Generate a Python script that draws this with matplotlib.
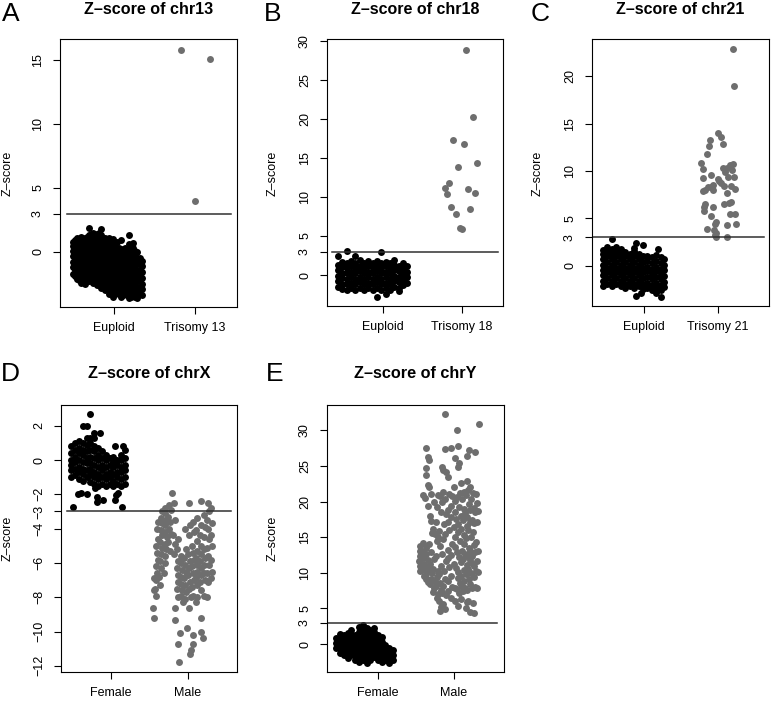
import matplotlib
matplotlib.use('Agg')
import matplotlib.pyplot as plt

plt.rcParams['font.family'] = ['Liberation Sans', 'DejaVu Sans']

# ---------------- data (jitter offset from category centre, z-score) ----------------
# Panel A: chr13
a_categories = ['Euploid', 'Trisomy 13']
a_euploid = [
    (-0.51, [-1.7, -1.2, -0.8, -0.3, 0.1, 0.5, 0.8]),
    (-0.485, [-1.9, -1.4, -0.9, -0.45, 0.0, 0.4, 0.9]),
    (-0.46, [-2.1, -1.6, -1.0, -0.6, -0.1, 0.3, 0.7, 1.1]),
    (-0.435, [-2.2, -1.7, -1.2, -0.8, -0.3, 0.15, 0.55, 1.0]),
    (-0.41, [-2.4, -1.9, -1.4, -1.0, -0.5, -0.1, 0.4, 0.9, 1.2]),
    (-0.385, [-2.3, -1.8, -1.3, -0.85, -0.3, 0.15, 0.7, 1.1]),
    (-0.36, [-2.5, -2.0, -1.6, -1.2, -0.7, -0.3, 0.2, 0.6, 1.0]),
    (-0.335, [-2.2, -1.7, -1.1, -0.6, -0.2, 0.3, 0.75, 1.15]),
    (-0.31, [-2.3, -1.8, -1.3, -0.9, -0.4, 0.0, 0.4, 0.9, 1.3, 1.9]),
    (-0.285, [-2.1, -1.6, -1.2, -0.8, -0.35, 0.1, 0.55, 1.0, 1.4]),
    (-0.26, [-2.4, -2.0, -1.5, -1.1, -0.6, -0.2, 0.3, 0.7, 1.1, 1.5]),
    (-0.235, [-2.3, -1.8, -1.4, -1.0, -0.5, 0.0, 0.4, 0.85, 1.3]),
    (-0.21, [-2.6, -2.1, -1.7, -1.2, -0.8, -0.3, 0.1, 0.5, 1.0, 1.4]),
    (-0.185, [-2.5, -2.0, -1.5, -1.05, -0.6, -0.2, 0.25, 0.7, 1.15, 1.5]),
    (-0.16, [-2.8, -2.3, -1.9, -1.4, -1.0, -0.5, -0.1, 0.4, 0.8, 1.3, 1.8]),
    (-0.135, [-2.6, -2.15, -1.7, -1.25, -0.85, -0.4, 0.05, 0.5, 0.95]),
    (-0.11, [-3.0, -2.5, -2.1, -1.6, -1.2, -0.7, -0.3, 0.2, 0.6, 1.1]),
    (-0.085, [-2.9, -2.4, -2.0, -1.5, -1.1, -0.6, -0.2, 0.3, 0.7, 1.0]),
    (-0.06, [-3.3, -2.8, -2.3, -1.9, -1.4, -1.0, -0.5, -0.1, 0.4, 0.8, 1.1]),
    (-0.035, [-3.2, -2.7, -2.3, -1.8, -1.3, -0.9, -0.4, 0.0, 0.45, 0.85]),
    (-0.01, [-3.5, -3.0, -2.6, -2.1, -1.7, -1.2, -0.8, -0.3, 0.1, 0.6, 1.0]),
    (0.015, [-3.3, -2.8, -2.4, -1.9, -1.5, -1.0, -0.55, -0.1, 0.3, 0.7]),
    (0.04, [-3.2, -2.8, -2.3, -1.9, -1.4, -1.0, -0.5, -0.1, 0.3, 0.8]),
    (0.065, [-3.3, -2.9, -2.4, -2.0, -1.5, -1.05, -0.6, -0.15, 0.3]),
    (0.09, [-3.5, -3.0, -2.6, -2.1, -1.6, -1.2, -0.7, -0.3, 0.2, 0.9]),
    (0.115, [-3.4, -2.8, -2.3, -1.8, -1.35, -0.9, -0.45, 0.0]),
    (0.14, [-3.3, -2.9, -2.4, -2.0, -1.5, -1.1, -0.6, -0.2, 0.3]),
    (0.165, [-3.4, -3.0, -2.5, -2.1, -1.6, -1.2, -0.7, -0.25, 0.2]),
    (0.19, [-3.6, -3.1, -2.7, -2.2, -1.8, -1.3, -0.9, -0.4, 0.1, 0.6, 1.3]),
    (0.215, [-3.5, -3.0, -2.6, -2.1, -1.7, -1.2, -0.8, -0.3, 0.2, 0.5]),
    (0.24, [-3.4, -2.9, -2.5, -2.0, -1.6, -1.1, -0.7, -0.2, 0.3, 0.7]),
    (0.265, [-3.5, -3.0, -2.6, -2.1, -1.7, -1.25, -0.8, -0.35, 0.1]),
    (0.29, [-3.6, -3.1, -2.7, -2.3, -1.8, -1.4, -0.9, -0.5, 0.0]),
    (0.315, [-3.3, -2.8, -2.3, -1.9, -1.4, -0.95, -0.5]),
    (0.34, [-3.4, -2.9, -2.5, -2.0, -1.6, -1.1, -0.7]),
]
a_trisomy = [(-0.17, 15.8), (0.18, 15.1), (0.00, 4.0)]

# Panel B: chr18
b_categories = ['Euploid', 'Trisomy 18']
b_euploid = [
    (-0.57, [-1.5, -0.8, -0.1, 0.6, 1.3, 2.4]),
    (-0.515, [-1.8, -1.1, -0.4, 0.3, 1.0, 1.7]),
    (-0.46, [-1.9, -1.2, -0.5, 0.2, 0.9, 1.6, 3.1]),
    (-0.405, [-1.7, -1.0, -0.3, 0.4, 1.1, 1.8]),
    (-0.35, [-1.9, -1.2, -0.5, 0.2, 0.9, 1.6, 2.4]),
    (-0.295, [-1.6, -0.9, -0.2, 0.5, 1.2, 1.9]),
    (-0.24, [-1.9, -1.2, -0.5, 0.2, 0.9, 1.5]),
    (-0.185, [-1.7, -1.0, -0.3, 0.4, 1.1, 1.8]),
    (-0.13, [-1.9, -1.2, -0.5, 0.2, 0.9, 1.6]),
    (-0.075, [-1.6, -0.9, -0.2, 0.5, 1.2, 1.8, -2.8]),
    (-0.02, [-1.9, -1.2, -0.5, 0.2, 0.9, 1.5, 3.0]),
    (0.035, [-1.7, -1.0, -0.3, 0.4, 1.1, 1.7, -2.4]),
    (0.09, [-1.9, -1.2, -0.5, 0.2, 0.9, 1.6]),
    (0.145, [-1.5, -0.8, -0.1, 0.6, 1.3, 1.9]),
    (0.20, [-1.6, -0.9, -0.2, 0.5, 1.2, -2.0]),
    (0.255, [-1.3, -0.6, 0.1, 0.8, 1.5]),
    (0.30, [-1.0, -0.3, 0.4, 1.1]),
]
b_trisomy = [(0.05, 28.9), (0.14, 20.2), (-0.11, 17.3), (0.03, 16.75), (-0.05, 13.9),
             (0.19, 14.3), (-0.16, 11.8), (-0.22, 11.2), (-0.19, 10.35), (0.08, 11.07),
             (0.16, 10.47), (-0.14, 8.76), (0.10, 8.42), (-0.08, 7.82), (-0.03, 6.07),
             (0.00, 5.85)]

# Panel C: chr21
c_categories = ['Euploid', 'Trisomy 21']
c_euploid = [
    (-0.55, [-2.2, -1.6, -1.0, -0.5, 0.1, 0.7, 1.2, 1.7]),
    (-0.49, [-1.9, -1.3, -0.7, -0.2, 0.4, 1.0, 1.5, 2.0]),
    (-0.43, [-2.2, -1.6, -1.0, -0.5, 0.1, 0.7, 1.2, 1.8, 2.8]),
    (-0.37, [-1.9, -1.3, -0.7, -0.2, 0.4, 1.0, 1.5, 2.0]),
    (-0.31, [-2.2, -1.6, -1.0, -0.5, 0.1, 0.7, 1.2, 1.8]),
    (-0.25, [-2.4, -1.9, -1.3, -0.7, -0.2, 0.4, 1.0, 1.4]),
    (-0.19, [-2.2, -1.6, -1.0, -0.5, 0.1, 0.7, 1.2]),
    (-0.13, [-2.4, -1.9, -1.3, -0.7, -0.2, 0.4, 1.0, 1.5, 1.9]),
    (-0.07, [-2.2, -1.6, -1.0, -0.5, 0.1, 0.7, 1.2]),
    (-0.10, [2.4, -3.2]),
    (-0.01, [-2.5, -1.9, -1.3, -0.7, -0.2, 0.4, 1.0, 2.2]),
    (-0.04, [-2.9]),
    (0.05, [-2.4, -1.8, -1.2, -0.6, -0.1, 0.5, 1.0]),
    (0.11, [-2.6, -2.0, -1.4, -0.9, -0.3, 0.3, 0.9]),
    (0.17, [-2.4, -1.8, -1.2, -0.6, -0.1, 0.5, 1.1, -2.9]),
    (0.23, [-2.6, -2.0, -1.4, -0.9, -0.3, 0.3, 0.9, -3.3]),
    (0.19, [1.8]),
    (0.28, [-2.3, -1.7, -1.1, -0.5, 0.1, 0.7]),
]
c_trisomy = [(0.20, 22.85), (0.22, 18.98), (0.00, 14.05), (0.04, 13.56), (-0.11, 13.27),
             (0.07, 12.85), (-0.12, 12.64), (-0.14, 11.8), (-0.22, 10.8), (-0.20, 10.2),
             (0.07, 10.28), (0.12, 10.35), (0.21, 10.74), (0.16, 10.63), (0.19, 10.1),
             (-0.20, 9.3), (-0.09, 9.58), (0.14, 9.4), (0.22, 9.4), (0.02, 8.98),
             (0.05, 8.7), (0.09, 8.45), (-0.13, 8.34), (-0.09, 8.34), (-0.06, 8.0),
             (-0.20, 7.89), (0.18, 8.45), (0.24, 8.07), (0.12, 7.64), (0.18, 6.76),
             (0.15, 6.59), (0.09, 6.5), (-0.17, 6.48), (-0.18, 6.23), (-0.06, 6.16),
             (-0.19, 5.78), (-0.09, 5.28), (0.16, 5.46), (0.23, 5.46), (-0.03, 4.65),
             (0.12, 4.3), (0.25, 4.44), (-0.15, 3.84), (-0.05, 3.77), (-0.02, 3.49),
             (-0.04, 3.24), (-0.03, 3.06), (0.13, 3.0), (-0.07, 8.5), (0.01, 9.2),
             (0.10, 9.9), (-0.04, 4.4), (-0.17, 8.0)]

# Panel D: chrX
d_categories = ['Female', 'Male']
d_female = [
    (-0.52, [-1.0, -0.6, -0.3, 0.0, 0.4, 0.8]),
    (-0.47, [-0.9, -0.5, -0.1, 0.2, 0.6, 1.0]),
    (-0.42, [-1.1, -0.7, -0.4, 0.0, 0.4, 0.7, 1.1]),
    (-0.37, [-1.2, -0.8, -0.5, -0.1, 0.3, 0.6, 1.0, 2.0]),
    (-0.32, [-1.0, -0.6, -0.2, 0.1, 0.5, 0.9, 1.3, 2.0]),
    (-0.27, [-1.3, -0.9, -0.5, -0.2, 0.2, 0.6, 1.0, 1.3, 2.7]),
    (-0.22, [-1.4, -1.0, -0.7, -0.3, 0.1, 0.5, 0.8, 1.3, 1.6]),
    (-0.17, [-1.5, -1.1, -0.8, -0.4, 0.0, 0.3, 0.7]),
    (-0.14, [1.6]),
    (-0.12, [-1.4, -1.0, -0.6, -0.3, 0.1, 0.5]),
    (-0.07, [-1.5, -1.1, -0.8, -0.4, 0.0, 0.3]),
    (-0.02, [-1.4, -1.0, -0.7, -0.3, 0.1]),
    (0.03, [-1.5, -1.2, -0.8, -0.4, -0.1, 0.2]),
    (0.05, [0.8, -2.33]),
    (0.08, [-1.4, -1.0, -0.7, -0.3, 0.0]),
    (0.13, [-1.5, -1.1, -0.7, -0.4, 0.0, 0.3]),
    (0.18, [-1.4, -1.0, -0.6, -0.3, 0.1, 0.6]),
    (0.16, [0.8]),
    (-0.50, [-2.72]), (-0.43, [-1.98]), (-0.40, [-1.94]), (-0.32, [-2.0]),
    (-0.19, [-2.14]), (-0.18, [-2.47]), (-0.11, [-2.33]), (-0.21, [-1.65]),
    (0.07, [-2.04]), (0.09, [-1.94]), (0.14, [-2.72]),
]
d_male = [
    (-0.21, -1.9), (-0.24, -2.6), (-0.22, -2.9), (-0.25, -3.3), (-0.23, -3.6), (-0.24, -4.0),
    (-0.22, -4.3), (-0.25, -4.8), (-0.23, -5.3),
    (-0.29, -2.8), (-0.30, -3.1), (-0.28, -3.5), (-0.30, -3.8), (-0.29, -4.2), (-0.27, -4.5),
    (-0.30, -4.9), (-0.28, -5.2), (-0.30, -5.6), (-0.29, -6.0), (-0.31, -6.6),
    (-0.34, -3.0), (-0.35, -3.4), (-0.33, -3.7), (-0.35, -4.1), (-0.34, -4.4), (-0.36, -4.8),
    (-0.34, -5.1), (-0.35, -5.5), (-0.36, -5.9), (-0.35, -6.3), (-0.37, -6.8), (-0.36, -7.3),
    (-0.39, -3.6), (-0.40, -4.0), (-0.39, -4.6), (-0.41, -5.0), (-0.40, -5.4), (-0.39, -5.8),
    (-0.41, -6.2), (-0.40, -6.6), (-0.41, -7.0), (-0.42, -7.5), (-0.41, -7.9),
    (-0.44, -6.9), (-0.44, -7.6), (-0.45, -8.6), (-0.44, -9.2),
    (-0.18, -2.5), (-0.17, -3.5), (-0.19, -4.4), (-0.16, -4.9), (-0.18, -5.5),
    (-0.13, -4.6), (-0.14, -5.2), (-0.12, -5.9), (-0.14, -6.3), (-0.13, -6.7), (-0.12, -7.1),
    (-0.14, -7.5), (-0.13, -8.0), (-0.16, -8.6), (-0.16, -9.3),
    (-0.08, -5.6), (-0.09, -6.0), (-0.07, -6.4), (-0.08, -6.8), (-0.09, -7.2), (-0.07, -7.6),
    (-0.08, -7.9), (-0.06, -8.3),
    (-0.03, -4.0), (-0.02, -5.2), (-0.04, -5.7), (-0.03, -6.1), (-0.02, -6.5), (-0.04, -6.9),
    (-0.03, -7.3), (-0.02, -7.7), (-0.03, -8.1), (-0.01, -9.8),
    (0.02, -2.5), (0.03, -3.8), (0.02, -4.4), (0.01, -5.5), (0.03, -5.9), (0.02, -6.3),
    (0.01, -6.7), (0.03, -7.1), (0.02, -7.5), (0.04, -8.0), (0.02, -8.6),
    (0.07, -3.6), (0.08, -4.2), (0.06, -5.0), (0.07, -5.4), (0.08, -5.8), (0.06, -6.2),
    (0.07, -6.6), (0.08, -7.0), (0.06, -7.4), (0.07, -7.9), (0.07, -10.2), (0.07, -10.7),
    (0.12, -3.4), (0.11, -4.1), (0.13, -4.7), (0.12, -5.3), (0.11, -5.7), (0.13, -6.1),
    (0.12, -6.5), (0.11, -6.9), (0.13, -7.3), (0.12, -8.0), (0.11, -8.3),
    (0.18, -2.4), (0.17, -3.8), (0.16, -4.4), (0.18, -5.0), (0.17, -5.5), (0.16, -5.9),
    (0.18, -6.3), (0.17, -6.7), (0.16, -7.1), (0.18, -7.6), (0.18, -9.2), (0.18, -10.0),
    (0.22, -3.2), (0.23, -3.9), (0.21, -4.5), (0.22, -5.2), (0.23, -5.7), (0.21, -6.1),
    (0.22, -6.6), (0.23, -7.0), (0.21, -7.9), (0.20, -10.4),
    (0.27, -2.5), (0.28, -3.0), (0.26, -3.5), (0.27, -4.0), (0.28, -4.6), (0.26, -5.1),
    (0.27, -5.6), (0.28, -6.1), (0.26, -6.6), (0.27, -7.1),
    (0.31, -2.8), (0.32, -3.7), (0.31, -4.4), (0.32, -5.0), (0.31, -5.8), (0.32, -6.5),
    (0.31, -6.9),
    (-0.10, -10.1), (-0.12, -10.7), (0.03, -11.3), (0.05, -11.1), (-0.11, -11.8), (0.25, -8.0),
]

# Panel E: chrY
e_categories = ['Female', 'Male']
e_female = [
    (-0.55, [-0.6, 0.1, 0.8]),
    (-0.50, [-1.3, -0.6, 0.1, 0.8, 1.4]),
    (-0.45, [-1.6, -0.9, -0.2, 0.5, 1.2]),
    (-0.40, [-1.9, -1.2, -0.5, 0.2, 0.9, 1.6]),
    (-0.35, [-1.6, -0.9, -0.2, 0.5, 1.2, 1.9]),
    (-0.30, [-2.2, -1.5, -0.8, -0.1, 0.6, 1.3]),
    (-0.25, [-2.5, -1.8, -1.1, -0.4, 0.3, 1.0, 1.7, 2.4]),
    (-0.20, [-2.3, -1.6, -0.9, -0.2, 0.5, 1.2, 1.9, 2.7]),
    (-0.15, [-2.6, -1.9, -1.2, -0.5, 0.2, 0.9, 1.6, 2.3]),
    (-0.10, [-2.2, -1.5, -0.8, -0.1, 0.6, 1.3, 2.0]),
    (-0.05, [-1.8, -1.1, -0.4, 0.3, 1.0, 1.7, 2.3]),
    (0.00, [-2.2, -1.5, -0.8, -0.1, 0.6, 1.3]),
    (0.05, [-2.5, -1.8, -1.1, -0.4, 0.3, 1.0]),
    (0.10, [-2.2, -1.5, -0.8, -0.2]),
    (0.15, [-2.6, -1.9, -1.2, -0.5]),
    (0.20, [-2.3, -1.6, -0.9]),
]
e_male = [
    (-0.44, 13.8), (-0.45, 13.1), (-0.44, 12.4), (-0.46, 11.6), (-0.44, 10.9), (-0.45, 10.2),
    (-0.40, 20.9), (-0.41, 14.2), (-0.40, 12.9), (-0.39, 12.1), (-0.41, 11.2), (-0.40, 10.5), (-0.39, 9.6),
    (-0.37, 24.7), (-0.37, 23.7), (-0.38, 20.5), (-0.36, 13.5), (-0.37, 12.6), (-0.36, 11.0), (-0.37, 9.9), (-0.36, 9.2),
    (-0.36, 27.6), (-0.34, 26.3), (-0.33, 25.9), (-0.34, 22.4), (-0.33, 22.1), (-0.34, 19.4), (-0.33, 14.0),
    (-0.34, 11.8), (-0.33, 10.4), (-0.34, 8.7),
    (-0.30, 21.0), (-0.31, 18.0), (-0.30, 17.3), (-0.29, 15.6), (-0.30, 12.9), (-0.31, 11.3), (-0.29, 10.0),
    (-0.30, 9.2), (-0.31, 8.4),
    (-0.26, 20.0), (-0.27, 16.2), (-0.25, 15.4), (-0.26, 11.9), (-0.27, 10.6), (-0.25, 8.9), (-0.26, 7.8), (-0.27, 7.3),
    (-0.21, 20.9), (-0.22, 19.3), (-0.23, 17.1), (-0.21, 15.0), (-0.22, 14.4), (-0.23, 12.3), (-0.21, 10.2),
    (-0.22, 9.4), (-0.23, 8.1), (-0.21, 7.0), (-0.22, 6.5),
    (-0.18, 20.8), (-0.17, 18.6), (-0.19, 15.9), (-0.18, 13.7), (-0.17, 11.0), (-0.19, 9.8), (-0.18, 8.6),
    (-0.17, 7.6), (-0.19, 6.0), (-0.17, 5.2), (-0.18, 4.6),
    (-0.14, 24.5), (-0.16, 24.9), (-0.14, 21.3), (-0.15, 19.9), (-0.13, 16.8), (-0.14, 14.7), (-0.15, 12.6),
    (-0.13, 10.3), (-0.14, 8.2), (-0.15, 7.2), (-0.14, 5.6),
    (-0.11, 32.3), (-0.11, 27.4), (-0.10, 24.2), (-0.11, 20.4), (-0.10, 18.3), (-0.11, 15.4), (-0.10, 11.7),
    (-0.11, 9.2), (-0.10, 6.9), (-0.11, 4.9),
    (-0.07, 23.5), (-0.06, 21.0), (-0.07, 18.8), (-0.08, 17.2), (-0.06, 16.0), (-0.07, 13.2), (-0.08, 12.1),
    (-0.06, 10.8), (-0.07, 8.8), (-0.08, 7.5),
    (-0.03, 27.5), (-0.02, 20.8), (-0.03, 19.4), (-0.04, 17.9), (-0.02, 14.1), (-0.03, 12.5), (-0.04, 9.6),
    (-0.02, 8.0), (-0.03, 6.5),
    (0.01, 26.1), (0.00, 22.0), (0.01, 20.1), (0.02, 18.6), (0.00, 16.5), (0.01, 15.0), (0.02, 13.6),
    (0.00, 11.3), (0.01, 7.9), (0.02, 6.1),
    (0.04, 30.1), (0.05, 24.8), (0.04, 20.6), (0.03, 17.5), (0.05, 15.7), (0.04, 12.9), (0.03, 10.7),
    (0.05, 9.3), (0.04, 7.7),
    (0.06, 27.8), (0.07, 25.4), (0.08, 21.2), (0.07, 19.3), (0.06, 16.9), (0.08, 14.4), (0.07, 12.2),
    (0.06, 10.1), (0.08, 8.6), (0.07, 7.1), (0.06, 5.3),
    (0.10, 22.6), (0.11, 20.3), (0.09, 18.0), (0.10, 16.2), (0.11, 13.1), (0.09, 11.5), (0.10, 9.6),
    (0.11, 8.1), (0.09, 6.3),
    (0.13, 21.4), (0.14, 19.0), (0.12, 17.4), (0.13, 15.3), (0.14, 14.0), (0.12, 12.0), (0.13, 10.4),
    (0.14, 8.9), (0.12, 7.4),
    (0.17, 26.4), (0.17, 22.9), (0.16, 20.9), (0.15, 18.4), (0.17, 16.6), (0.16, 14.9), (0.15, 12.7),
    (0.17, 11.1), (0.16, 9.9), (0.15, 7.9), (0.17, 5.9), (0.16, 5.0),
    (0.20, 27.3), (0.19, 21.6), (0.20, 19.6), (0.18, 17.9), (0.19, 16.0), (0.20, 13.5), (0.18, 12.3),
    (0.19, 10.6), (0.20, 9.1), (0.18, 7.6), (0.19, 6.0),
    (0.22, 22.0), (0.23, 20.4), (0.21, 18.8), (0.22, 17.1), (0.23, 15.1), (0.21, 13.0), (0.22, 11.8),
    (0.23, 10.0), (0.21, 8.4), (0.22, 4.5),
    (0.25, 21.2), (0.26, 19.1), (0.24, 17.4), (0.25, 15.8), (0.26, 13.9), (0.24, 12.4), (0.25, 11.3),
    (0.26, 9.4), (0.24, 7.8), (0.25, 5.7), (0.26, 4.3),
    (0.28, 26.9), (0.29, 21.0), (0.28, 18.5), (0.27, 17.0), (0.29, 14.3), (0.28, 12.9), (0.27, 11.0),
    (0.29, 10.2), (0.28, 8.0),
    (0.31, 19.8), (0.32, 18.7), (0.31, 17.1), (0.32, 13.0), (0.31, 11.7), (0.32, 10.1), (0.31, 7.9),
    (0.33, 30.9),
]

# cut-off lines drawn in each panel
thresholds = [3, 3, 3, -3, 3]

# ---------------- styling / layout ----------------
W, H = 772, 702
BLACK = '#000000'
GRAY = '#6e6e6e'
MS = 5.0

fig = plt.figure(figsize=(W / 100, H / 100), dpi=100)


def cols_xy(cols, centre):
    xs, ys = [], []
    for dx, vals in cols:
        for v in vals:
            xs.append(centre + dx)
            ys.append(v)
    return xs, ys


def pairs_xy(pairs, centre):
    return [centre + p[0] for p in pairs], [p[1] for p in pairs]


panels = [
    dict(letter='A', title='Z\u2013score of chr13', box=(60, 39, 237, 307),
         xlim=(0.333, 2.519), ylim=(-4.30, 16.64), yticks=[0, 3, 5, 10, 15],
         cats=a_categories, g1=cols_xy(a_euploid, 1), g2=pairs_xy(a_trisomy, 2),
         line=(0.040, 0.966), letter_xy=(11, 14), title_y=9, title_w=130, ylab=(8, 173)),
    dict(letter='B', title='Z\u2013score of chr18', box=(327, 39, 503, 306),
         xlim=(0.291, 2.519), ylim=(-3.97, 30.26), yticks=[0, 3, 5, 10, 15, 20, 25, 30],
         cats=b_categories, g1=cols_xy(b_euploid, 1), g2=pairs_xy(b_trisomy, 2),
         line=(0.028, 0.972), letter_xy=(273, 14), title_y=9, title_w=129, ylab=(273, 173)),
    dict(letter='C', title='Z\u2013score of chr21', box=(592, 39, 769, 306),
         xlim=(0.301, 2.693), ylim=(-4.26, 23.94), yticks=[0, 3, 5, 10, 15, 20],
         cats=c_categories, g1=cols_xy(c_euploid, 1), g2=pairs_xy(c_trisomy, 2),
         line=(0.006, 0.972), letter_xy=(540, 14), title_y=9, title_w=129, ylab=(538, 173)),
    dict(letter='D', title='Z\u2013score of chrX', box=(61, 405, 237, 672),
         xlim=(0.344, 2.647), ylim=(-12.36, 3.21), yticks=[2, 0, -2, -3, -4, -6, -8, -10, -12],
         cats=d_categories, g1=cols_xy(d_female, 1), g2=pairs_xy(d_male, 2),
         line=(0.034, 0.964), letter_xy=(10, 374), title_y=374, title_w=123, ylab=(8, 538)),
    dict(letter='E', title='Z\u2013score of chrY', box=(327, 405, 504, 672),
         xlim=(0.329, 2.662), ylim=(-3.93, 33.57), yticks=[0, 3, 5, 10, 15, 20, 25, 30],
         cats=e_categories, g1=cols_xy(e_female, 1), g2=pairs_xy(e_male, 2),
         line=(0.004, 0.963), letter_xy=(275, 374), title_y=374, title_w=123, ylab=(273, 538)),
]

renderer = fig.canvas.get_renderer()

for p, thr in zip(panels, thresholds):
    x0, y0, x1, y1 = p['box']
    ax = fig.add_axes([x0 / W, 1 - y1 / H, (x1 - x0) / W, (y1 - y0) / H])
    ax.plot(p['g1'][0], p['g1'][1], 'o', ms=MS, mew=0, color=BLACK)
    ax.plot(p['g2'][0], p['g2'][1], 'o', ms=MS, mew=0, color=GRAY)
    ax.axhline(thr, xmin=p['line'][0], xmax=p['line'][1], color='#303030', lw=1.1)
    ax.set_xlim(*p['xlim'])
    ax.set_ylim(*p['ylim'])
    ax.set_xticks([1, 2])
    ax.set_xticklabels(p['cats'])
    ax.set_yticks(p['yticks'])
    ax.set_yticklabels([str(t).replace('-', '\u2212') for t in p['yticks']])
    ax.tick_params(axis='both', direction='out', length=5, width=0.8, labelsize=9,
                   colors='black')
    ax.tick_params(axis='x', pad=6)
    ax.tick_params(axis='y', pad=6.5, labelrotation=90)
    for lbl in ax.get_yticklabels():
        lbl.set_va('center')
    for s in ax.spines.values():
        s.set_linewidth(0.8)
        s.set_color('black')
    cx = (x0 + x1) / 2
    t = fig.text(cx / W, 1 - p['title_y'] / H, p['title'], ha='center', va='center',
                 fontsize=11.5, fontweight='bold')
    w = t.get_window_extent(renderer).width
    t.set_fontsize(11.5 * p['title_w'] / w)
    lx, ly = p['letter_xy']
    fig.text(lx / W, 1 - ly / H, p['letter'], ha='center', va='center', fontsize=19)
    yx, yy = p['ylab']
    fig.text(yx / W, 1 - yy / H, 'Z\u2013score', rotation=90, ha='center', va='center',
             fontsize=9)

fig.savefig('out.png', dpi=100)
